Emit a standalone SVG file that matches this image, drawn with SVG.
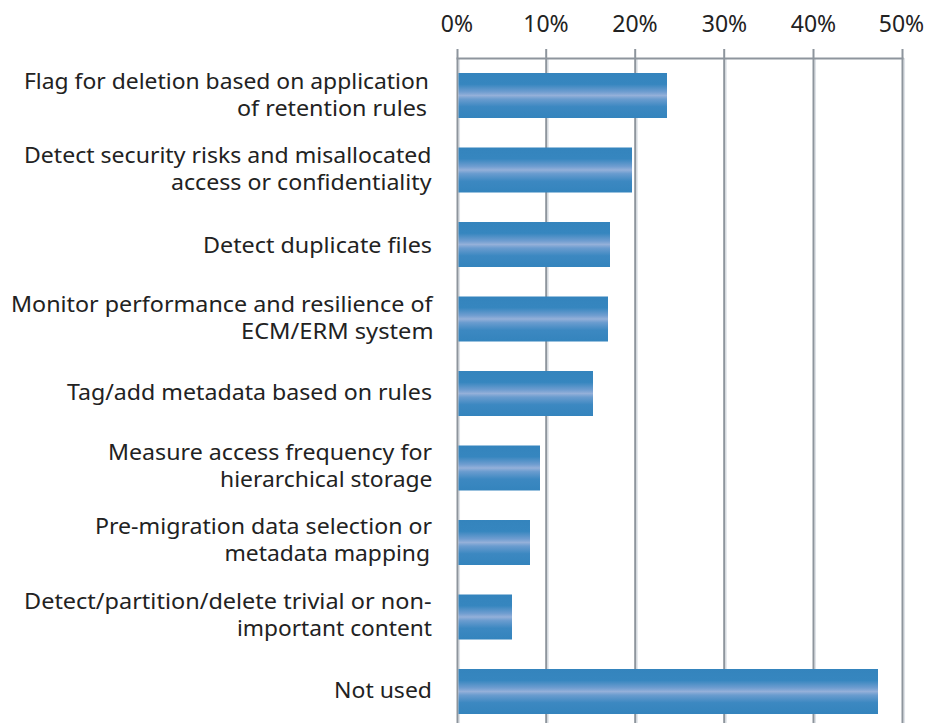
<svg xmlns="http://www.w3.org/2000/svg" width="929" height="723" viewBox="0 0 929 723">
  <style>
    .lbl { font-family: "Noto Sans", "Open Sans", sans-serif; font-size: 22.5px; fill: #222222; }
    .tick { font-family: "Noto Sans", "Open Sans", sans-serif; font-size: 23px; fill: #222222; text-anchor: middle; }
    .grid { stroke: #8e959d; stroke-width: 2; fill: none; }
    .gridhi { stroke: #dfe3e8; stroke-width: 1.5; fill: none; }
    .bar { fill: url(#barFill); }
  </style>
  <defs>
    <linearGradient id="barFill" x1="0" y1="0" x2="0" y2="1">
      <stop offset="0" stop-color="#3484bd"/>
      <stop offset="0.25" stop-color="#3686bf"/>
      <stop offset="0.42" stop-color="#6f9dd0"/>
      <stop offset="0.5" stop-color="#94b0d9"/>
      <stop offset="0.58" stop-color="#6a9ccf"/>
      <stop offset="0.75" stop-color="#3c88c1"/>
      <stop offset="1" stop-color="#3484bd"/>
    </linearGradient>
  </defs>
  <rect width="929" height="723" fill="#ffffff"/>

  <!-- value axis: labels, ticks and gridlines -->
  <g id="axis">
    <text class="tick" x="457" y="32">0%</text>
    <text class="tick" x="546" y="32">10%</text>
    <text class="tick" x="635" y="32">20%</text>
    <text class="tick" x="724.5" y="32">30%</text>
    <text class="tick" x="813.5" y="32">40%</text>
    <text class="tick" x="901.5" y="32">50%</text>
    <g class="gridhi">
      <line x1="459.3" y1="58" x2="459.3" y2="723"/>
      <line x1="548" y1="58" x2="548" y2="723"/>
      <line x1="637" y1="58" x2="637" y2="723"/>
      <line x1="726" y1="58" x2="726" y2="723"/>
      <line x1="815.3" y1="58" x2="815.3" y2="723"/>
      <line x1="904.3" y1="58" x2="904.3" y2="723"/>
    </g>
    <g class="grid">
      <line x1="457.5" y1="49" x2="457.5" y2="723"/>
      <line x1="546.2" y1="49" x2="546.2" y2="723"/>
      <line x1="635.2" y1="49" x2="635.2" y2="723"/>
      <line x1="724.2" y1="49" x2="724.2" y2="723"/>
      <line x1="813.5" y1="49" x2="813.5" y2="723"/>
      <line x1="902.5" y1="49" x2="902.5" y2="723"/>
      <line x1="456.5" y1="58.5" x2="903.5" y2="58.5"/>
    </g>
  </g>

  <!-- one row per category: label and bar -->
  <g id="row-flag-deletion">
    <text class="lbl"><tspan x="24" y="89" textLength="405" lengthAdjust="spacingAndGlyphs">Flag for deletion based on application</tspan><tspan x="237" y="116" textLength="190" lengthAdjust="spacingAndGlyphs">of retention rules</tspan></text>
    <rect class="bar" x="458.5" y="73" width="208.5" height="45"/>
  </g>
  <g id="row-security-risks">
    <text class="lbl"><tspan x="24" y="163" textLength="407.5" lengthAdjust="spacingAndGlyphs">Detect security risks and misallocated</tspan><tspan x="171" y="190" textLength="260.5" lengthAdjust="spacingAndGlyphs">access or confidentiality</tspan></text>
    <rect class="bar" x="458.5" y="147.5" width="173.5" height="45"/>
  </g>
  <g id="row-duplicates">
    <text class="lbl" x="203" y="253" textLength="229" lengthAdjust="spacingAndGlyphs">Detect duplicate files</text>
    <rect class="bar" x="458.5" y="222" width="151.5" height="45"/>
  </g>
  <g id="row-monitor">
    <text class="lbl"><tspan x="11" y="312" textLength="421.5" lengthAdjust="spacingAndGlyphs">Monitor performance and resilience of</tspan><tspan x="241" y="339" textLength="192.5" lengthAdjust="spacingAndGlyphs">ECM/ERM system</tspan></text>
    <rect class="bar" x="458.5" y="296.5" width="149.5" height="45"/>
  </g>
  <g id="row-tag-metadata">
    <text class="lbl" x="67" y="400" textLength="365" lengthAdjust="spacingAndGlyphs">Tag/add metadata based on rules</text>
    <rect class="bar" x="458.5" y="371" width="134.5" height="45"/>
  </g>
  <g id="row-access-frequency">
    <text class="lbl"><tspan x="108" y="460" textLength="324" lengthAdjust="spacingAndGlyphs">Measure access frequency for</tspan><tspan x="220" y="487" textLength="212.5" lengthAdjust="spacingAndGlyphs">hierarchical storage</tspan></text>
    <rect class="bar" x="458.5" y="445.5" width="81.5" height="45"/>
  </g>
  <g id="row-pre-migration">
    <text class="lbl"><tspan x="95" y="534" textLength="337" lengthAdjust="spacingAndGlyphs">Pre-migration data selection or</tspan><tspan x="224.5" y="561" textLength="205.5" lengthAdjust="spacingAndGlyphs">metadata mapping</tspan></text>
    <rect class="bar" x="458.5" y="520" width="71.5" height="45"/>
  </g>
  <g id="row-trivial-content">
    <text class="lbl"><tspan x="24" y="609" textLength="407.5" lengthAdjust="spacingAndGlyphs">Detect/partition/delete trivial or non-</tspan><tspan x="237" y="636" textLength="195" lengthAdjust="spacingAndGlyphs">important content</tspan></text>
    <rect class="bar" x="458.5" y="594.5" width="53.5" height="45"/>
  </g>
  <g id="row-not-used">
    <text class="lbl" x="334" y="698" textLength="98" lengthAdjust="spacingAndGlyphs">Not used</text>
    <rect class="bar" x="458.5" y="669" width="419.5" height="45"/>
  </g>
</svg>
